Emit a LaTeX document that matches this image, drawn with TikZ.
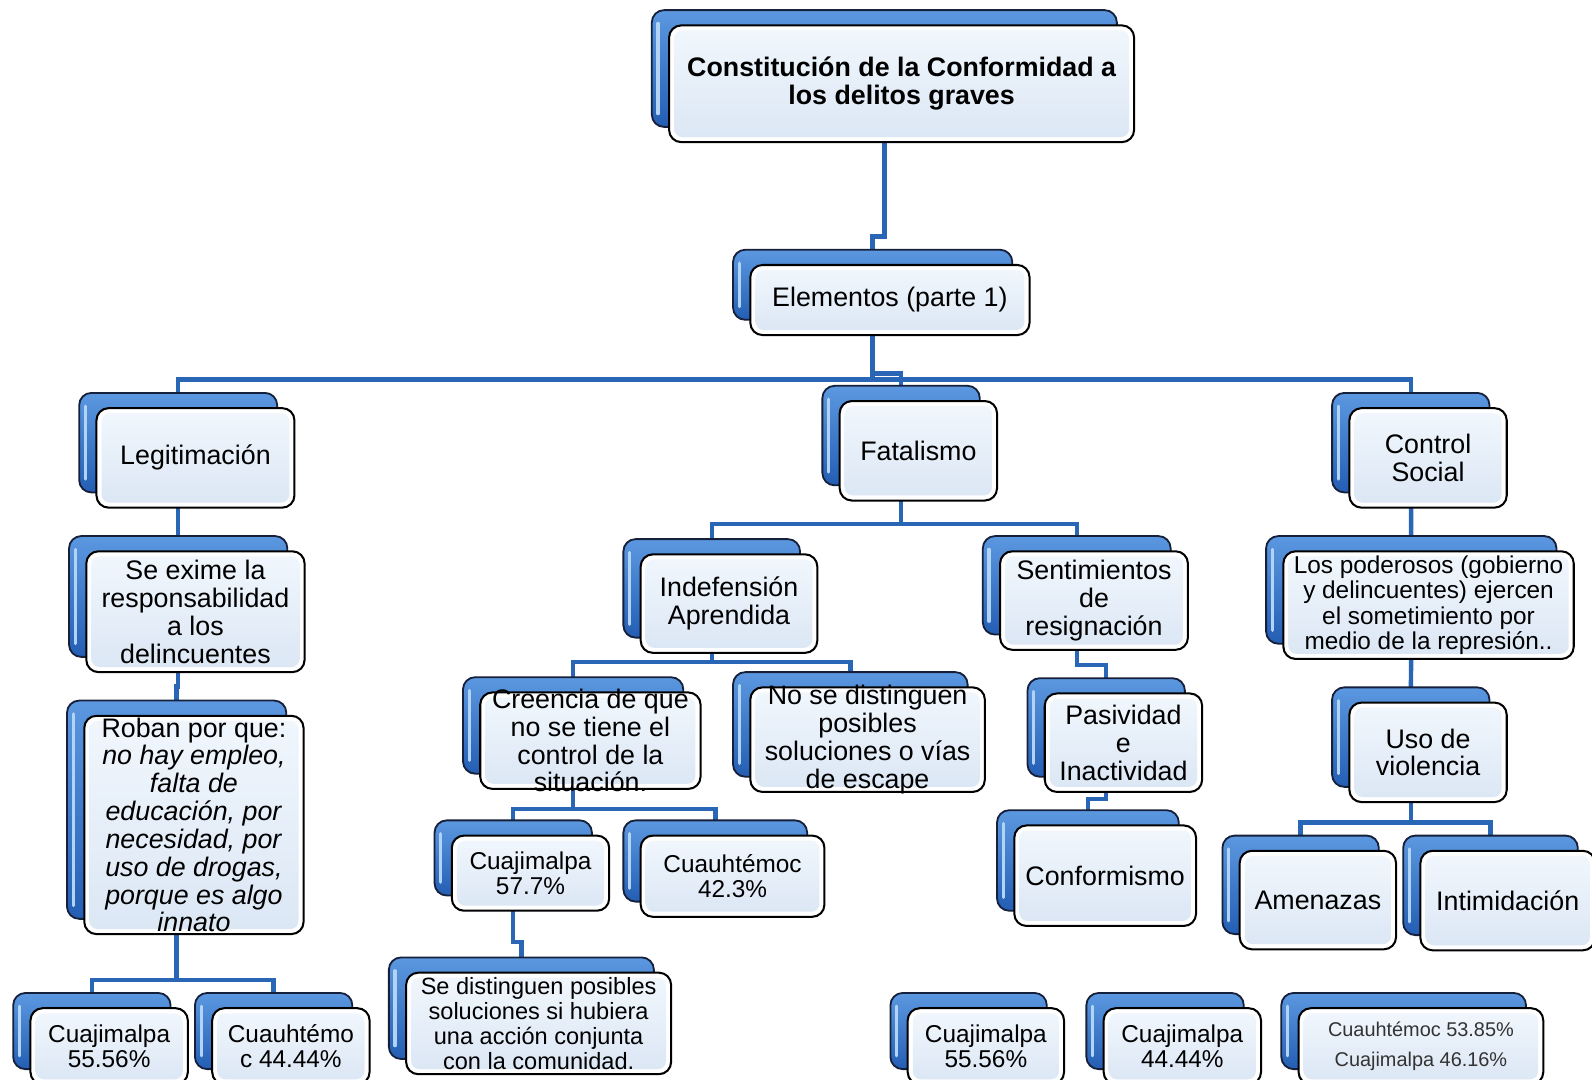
\documentclass[tikz,border=0pt]{standalone}
\usepackage{fontspec}
\setmainfont{Liberation Sans}
\usetikzlibrary{backgrounds}
\definecolor{connblue}{RGB}{42,102,182}
\definecolor{btop}{RGB}{92,152,224}
\definecolor{bbot}{RGB}{36,94,180}
\definecolor{bedge}{RGB}{22,32,58}
\definecolor{bhl}{RGB}{178,212,244}
\definecolor{ftop}{RGB}{240,246,252}
\definecolor{fbot}{RGB}{220,231,245}
\tikzset{
 backbox/.style={draw=bedge, line width=0.9pt, rounded corners=6pt, inner sep=0pt, top color=btop, bottom color=bbot},
 frontbox/.style={draw=black, line width=1pt, rounded corners=6pt, inner sep=0pt, fill=white},
 innerfill/.style={rounded corners=4pt, top color=ftop, bottom color=fbot},
 hilite/.style={draw=bhl, line width=1.6pt, line cap=round},
 txt/.style={align=center, inner sep=0pt, text=black, font=\fontsize{13.2}{13.7}\selectfont},
 link/.style={draw=connblue, line width=2.2pt},
}
% #1 text options, #2 name, #3 x1, #4 y1, #5 x2, #6 y2 (back box), #7 text
\newcommand\dbox[7][]{%
 \node[backbox, minimum width={(#5-#3)*0.5pt}, minimum height={(#6-#4)*0.5pt}] (#2B) at ({(#3+#5)/2},{(#4+#6)/2}) {};
 \draw[hilite] ([shift={(7,14)}]#2B.north west) -- ([shift={(7,-14)}]#2B.south west);
 \node[frontbox, minimum width={(#5-#3)*0.5pt}, minimum height={(#6-#4)*0.5pt}] (#2) at ({(#3+#5)/2+17},{(#4+#6)/2+15}) {};
 \path[innerfill] ([shift={(6,6)}]#2.north west) rectangle ([shift={(-6,-6)}]#2.south east);
 \node[txt,#1] (#2T) at (#2.center) {#7};
}
\begin{document}
\begin{tikzpicture}[x=0.5pt,y=-0.5pt]
\useasboundingbox (0,0) rectangle (1568,1063);

\dbox[font=\bfseries\fontsize{13.2}{14}\selectfont]{root}{642}{10}{1100}{125}{Constitución de la Conformidad a\\los delitos graves}
\dbox{el}{722}{246}{997}{315}{Elementos (parte 1)}
\dbox{leg}{78}{387}{273}{485}{Legitimación}
\dbox{fat}{810}{380}{965}{478}{Fatalismo}
\dbox{cs}{1312}{387}{1467}{485}{Control\\Social}
\dbox{se}{68}{528}{283}{647}{Se exime la\\responsabilidad\\a los\\delincuentes}
\dbox{ind}{614}{531}{788}{628}{Indefensión\\Aprendida}
\dbox{sent}{968}{528}{1153}{625}{Sentimientos\\de\\resignación}
\dbox[font=\fontsize{12}{12.6}\selectfont]{pod}{1247}{528}{1533}{634}{Los poderosos (gobierno\\y delincuentes) ejercen\\el sometimiento por\\medio de la represión..}
\dbox{rob}{66}{690}{282}{905}{Roban por que:\\\textit{no hay empleo,}\\\textit{falta de}\\\textit{educación, por}\\\textit{necesidad, por}\\\textit{uso de drogas,}\\\textit{porque es algo}\\\textit{innato}}
\dbox{cre}{456}{667}{673}{762}{Creencia de que\\no se tiene el\\control de la\\situación.}
\dbox{nsd}{722}{662}{953}{765}{No se distinguen\\posibles\\soluciones o vías\\de escape}
\dbox{pas}{1012}{668}{1167}{765}{Pasividad\\e\\Inactividad}
\dbox{uso}{1312}{677}{1467}{775}{Uso de\\violencia}
\dbox[font=\fontsize{12}{12.6}\selectfont]{cuA}{428}{808}{583}{882}{Cuajimalpa\\57.7\%}
\dbox[font=\fontsize{12}{12.6}\selectfont]{caA}{614}{808}{795}{888}{Cuauhtémoc\\42.3\%}
\dbox{conf}{982}{798}{1161}{897}{Conformismo}
\dbox{ame}{1204}{823}{1358}{920}{Amenazas}
\dbox{inti}{1382}{823}{1554}{921}{Intimidación}
\dbox[font=\fontsize{11.6}{12.3}\selectfont]{sdp}{383}{943}{644}{1043}{Se distinguen posibles\\soluciones si hubiera\\una acción conjunta\\con la comunidad.}
\dbox[font=\fontsize{12}{12.6}\selectfont]{cuB}{13}{978}{168}{1053}{Cuajimalpa\\55.56\%}
\dbox[font=\fontsize{12}{12.6}\selectfont]{caB}{192}{978}{347}{1053}{Cuauhtémo\\c 44.44\%}
\dbox[font=\fontsize{12}{12.6}\selectfont]{cuC}{877}{978}{1031}{1053}{Cuajimalpa\\55.56\%}
\dbox[font=\fontsize{12}{12.6}\selectfont]{cuD}{1070}{978}{1225}{1053}{Cuajimalpa\\44.44\%}
\dbox[font=\fontsize{9.8}{15}\selectfont, text=black!80]{caC}{1262}{978}{1503}{1053}{Cuauhtémoc 53.85\%\\Cuajimalpa 46.16\%}

\begin{scope}[on background layer]
\fill[white] (0,0) rectangle (1568,1063);
\draw[link] (rootB.center) -- (rootB.center |- 0,233) -| (elB.center);
\draw[link] (elB.center) -- (elB.center |- 0,374) -| (legB.center);
\draw[link] (elB.center |- 0,374) -| (csB.center);
\draw[link] (elB.center |- 0,368) -| (fatB.center);
\draw[link] (legB.center) -- (seB.center);
\draw[link] (seB.center) -- (seB.center |- 0,676) -| (robB.center);
\draw[link] (robB.center) -- (robB.center |- 0,965) -| (cuBB.center);
\draw[link] (robB.center |- 0,965) -| (caBB.center);
\draw[link] (fatB.center) -- (fatB.center |- 0,516) -| (indB.center);
\draw[link] (fatB.center |- 0,516) -| (sentB.center);
\draw[link] (indB.center) -- (indB.center |- 0,652) -| (creB.center);
\draw[link] (indB.center |- 0,652) -| (nsdB.center);
\draw[link] (creB.center) -- (creB.center |- 0,797) -| (cuAB.center);
\draw[link] (creB.center |- 0,797) -| (caAB.center);
\draw[link] (cuAB.center) -- (cuAB.center |- 0,928) -| (sdpB.center);
\draw[link] (sentB.center) -- (sentB.center |- 0,655) -| (pasB.center);
\draw[link] (pasB.center) -- (pasB.center |- 0,787) -| (confB.center);
\draw[link] (csB.center) -- (podB.center);
\draw[link] (podB.center) -- (usoB.center);
\draw[link] (usoB.center) -- (usoB.center |- 0,810) -| (ameB.center);
\draw[link] (usoB.center |- 0,810) -| (intiB.center);
\end{scope}
\end{tikzpicture}
\end{document}
